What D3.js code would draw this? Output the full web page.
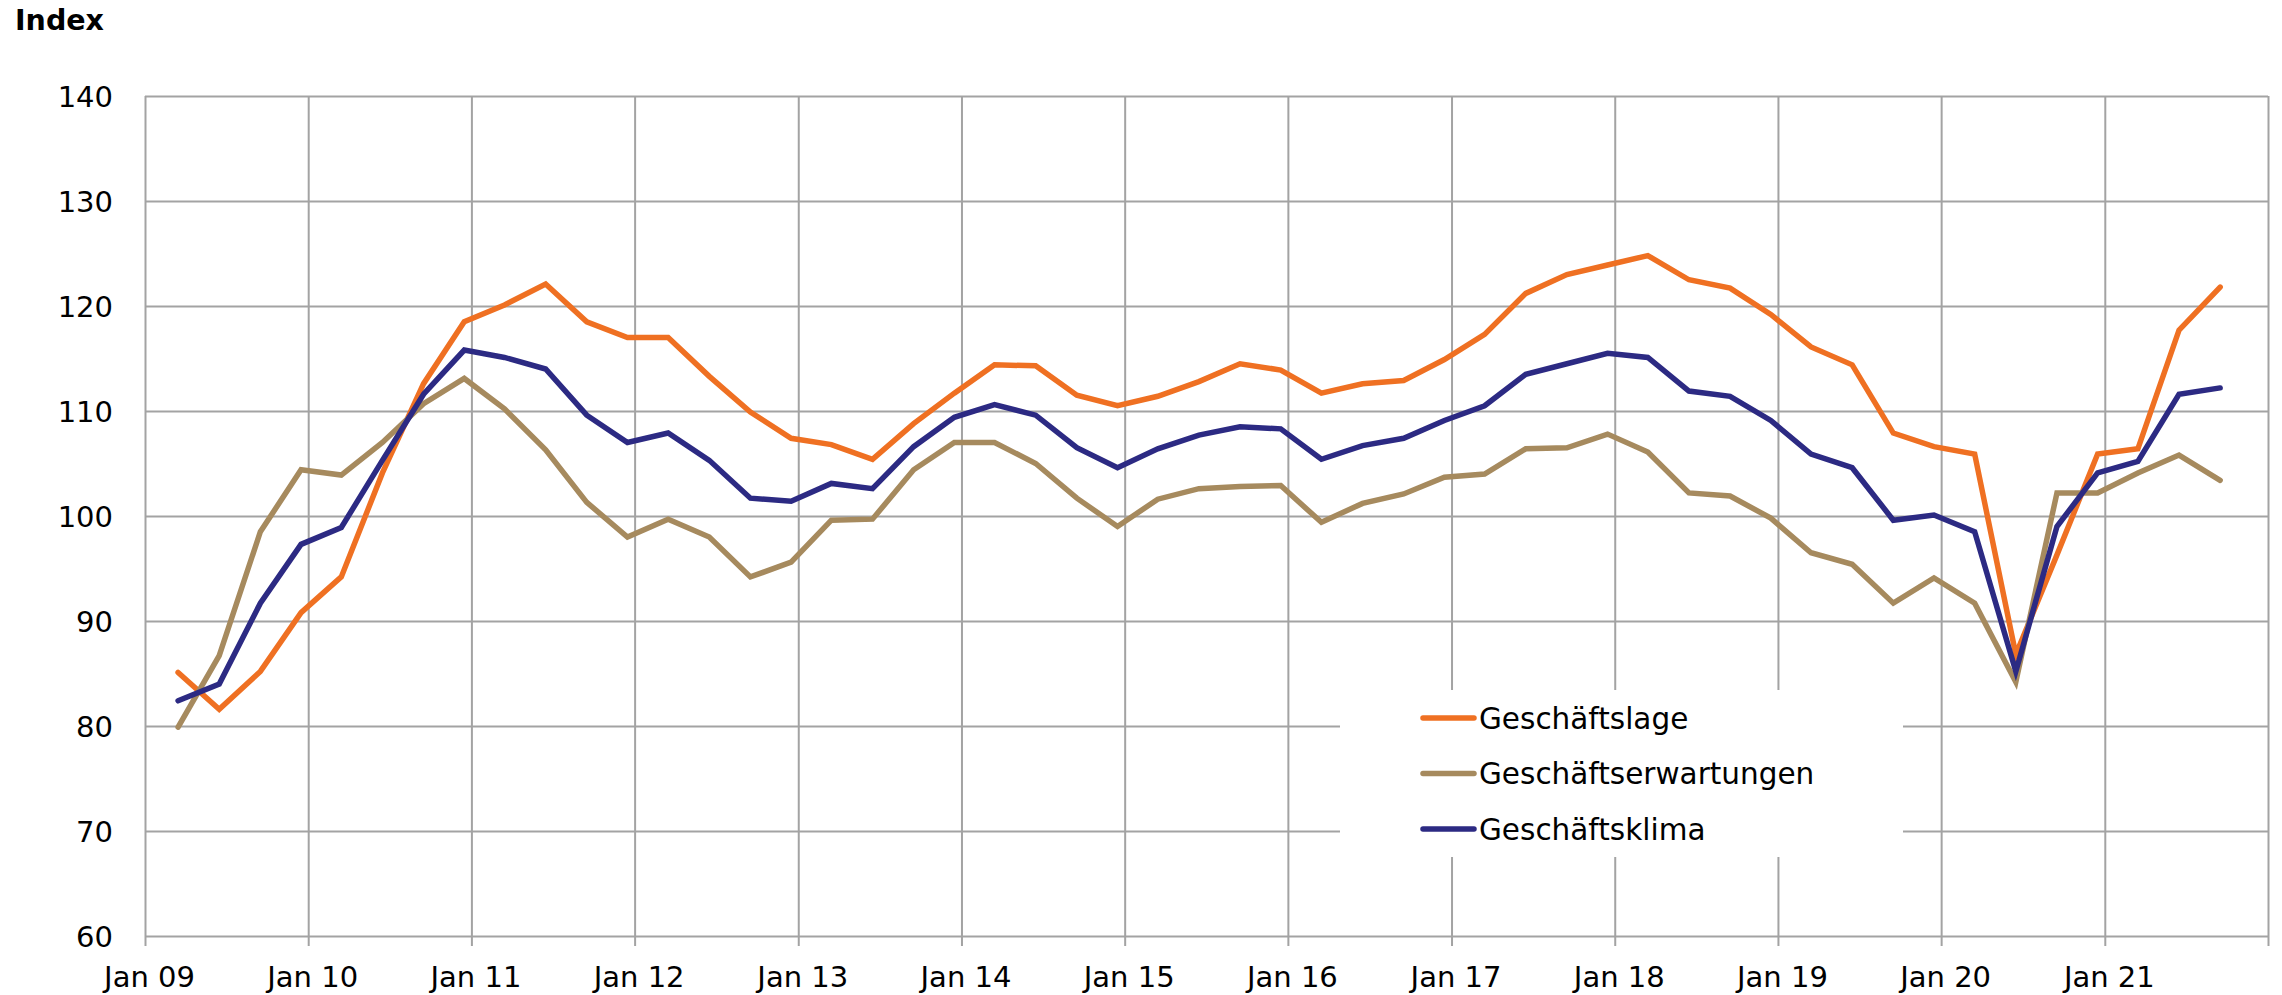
<!DOCTYPE html>
<html>
<head>
<meta charset="utf-8">
<script src="https://cdnjs.cloudflare.com/ajax/libs/d3/7.8.5/d3.min.js"></script>
<style>
  body { margin: 0; background: #fff; }
  svg { display: block; font-family: "DejaVu Sans", Verdana, sans-serif; }
</style>
</head>
<body>
<div id="chart"></div>
<script>

// quarter end months (points sit in the middle of that month)
var quarters = [
  "2009-03","2009-06","2009-09","2009-12",
  "2010-03","2010-06","2010-09","2010-12",
  "2011-03","2011-06","2011-09","2011-12",
  "2012-03","2012-06","2012-09","2012-12",
  "2013-03","2013-06","2013-09","2013-12",
  "2014-03","2014-06","2014-09","2014-12",
  "2015-03","2015-06","2015-09","2015-12",
  "2016-03","2016-06","2016-09","2016-12",
  "2017-03","2017-06","2017-09","2017-12",
  "2018-03","2018-06","2018-09","2018-12",
  "2019-03","2019-06","2019-09","2019-12",
  "2020-03","2020-06","2020-09","2020-12",
  "2021-03","2021-06","2021-09"
];

var geschaeftslage = [
  85.1, 81.6, 85.2, 90.8, 94.2, 104.1, 112.6, 118.5, 120.1, 122.1,
  118.5, 117.0, 117.0, 113.3, 109.9, 107.4, 106.8, 105.4, 108.8, 111.7,
  114.4, 114.3, 111.5, 110.5, 111.4, 112.8, 114.5, 113.9, 111.7, 112.6,
  112.9, 114.9, 117.3, 121.2, 123.0, 123.9, 124.8, 122.5, 121.7, 119.2,
  116.1, 114.4, 107.9, 106.6, 105.9, 86.8, 96.3, 105.9, 106.4, 117.7,
  121.8
];

var geschaeftserwartungen = [
  79.9, 86.7, 98.5, 104.4, 103.9, 107.0, 110.7, 113.1, 110.2, 106.3,
  101.3, 98.0, 99.7, 98.0, 94.2, 95.6, 99.6, 99.7, 104.4, 107.0,
  107.0, 105.0, 101.7, 99.0, 101.6, 102.6, 102.8, 102.9, 99.4, 101.2,
  102.1, 103.7, 104.0, 106.4, 106.5, 107.8, 106.1, 102.2, 101.9, 99.8,
  96.5, 95.4, 91.7, 94.1, 91.7, 84.2, 102.2, 102.2, 104.1, 105.8,
  103.4
];

var geschaeftsklima = [
  82.4, 84.0, 91.7, 97.3, 98.9, 105.3, 111.6, 115.8, 115.1, 114.0,
  109.6, 107.0, 107.9, 105.3, 101.7, 101.4, 103.1, 102.6, 106.6, 109.4,
  110.6, 109.6, 106.5, 104.6, 106.4, 107.7, 108.5, 108.3, 105.4, 106.7,
  107.4, 109.1, 110.5, 113.5, 114.5, 115.5, 115.1, 111.9, 111.4, 109.1,
  105.9, 104.6, 99.6, 100.1, 98.5, 85.2, 99.0, 104.1, 105.2, 111.6,
  112.2
];

var seriesNames = ["Geschäftslage", "Geschäftserwartungen", "Geschäftsklima"];
var seriesColors = ["#EF7022", "#A68A5E", "#2C2A83"];

var xTickYears = ["2009","2010","2011","2012","2013","2014","2015","2016","2017","2018","2019","2020","2021","2022"];
var xTickLabels = ["Jan 09","Jan 10","Jan 11","Jan 12","Jan 13","Jan 14","Jan 15","Jan 16","Jan 17","Jan 18","Jan 19","Jan 20","Jan 21",""];
var yTicks = [60, 70, 80, 90, 100, 110, 120, 130, 140];

//Width and height
var w = 2282;
var h = 995;
var plotLeft = 145, plotRight = 2268, plotTop = 96, plotBottom = 936;
var fontFam = "'DejaVu Sans', Verdana, sans-serif";

var svg = d3.select("#chart")
  .append("svg")
  .attr("width", w)
  .attr("height", h);

var parseMonth = d3.timeParse("%Y-%m");
var parseYear = d3.timeParse("%Y");

// mid-month position for each quarter point
var dates = quarters.map(function(q) { return d3.timeDay.offset(parseMonth(q), 15); });
var tickDates = xTickYears.map(function(yr) { return parseYear(yr); });

var x = d3.scaleTime()
  .domain([tickDates[0], tickDates[tickDates.length - 1]])
  .range([plotLeft, plotRight]);

var y = d3.scaleLinear()
  .domain([60, 140])
  .range([plotBottom, plotTop]);

// horizontal gridlines + y labels
var yAxis = svg.append("g")
  .attr("transform", "translate(" + plotLeft + ",0)")
  .call(d3.axisLeft(y)
    .tickValues(yTicks)
    .tickSize(-(plotRight - plotLeft))
    .tickPadding(32)
    .tickFormat(d3.format("d")))
  .attr("font-family", fontFam)
  .attr("font-size", 29);

yAxis.select(".domain").remove();
yAxis.selectAll(".tick line").attr("stroke", "#a3a3a3").attr("stroke-width", 2);
yAxis.selectAll(".tick text")
  .attr("fill", "#000")
  .attr("dy", "0.36em");

// vertical gridlines with small ticks below the axis
var xAxis = svg.append("g")
  .attr("transform", "translate(0," + (plotBottom + 10) + ")")
  .call(d3.axisBottom(x)
    .tickValues(tickDates)
    .tickSize(-(plotBottom + 10 - plotTop))
    .tickPadding(20)
    .tickFormat(function(d, i) { return xTickLabels[i]; }))
  .attr("font-family", fontFam)
  .attr("font-size", 29);

xAxis.select(".domain").remove();
xAxis.selectAll(".tick line").attr("stroke", "#a3a3a3").attr("stroke-width", 2);
xAxis.selectAll(".tick text")
  .attr("fill", "#000")
  .attr("dx", 4);

// title
svg.append("text")
  .attr("x", 15)
  .attr("y", 30)
  .style("font-size", "28.5px")
  .style("font-weight", "bold")
  .text("Index");

// lines
var allSeries = [geschaeftslage, geschaeftserwartungen, geschaeftsklima];

var line = d3.line()
  .x(function(d, i) { return x(dates[i]); })
  .y(function(d) { return y(d); });

svg.selectAll("path.series")
  .data(allSeries)
  .enter()
  .append("path")
  .attr("class", "series")
  .attr("d", line)
  .attr("fill", "none")
  .attr("stroke", function(d, i) { return seriesColors[i]; })
  .attr("stroke-width", 5.5)
  .attr("stroke-linejoin", "miter")
  .attr("stroke-linecap", "round");

// legend (white box over the grid)
var legend = svg.append("g");

legend.append("rect")
  .attr("x", 1340)
  .attr("y", 690)
  .attr("width", 563)
  .attr("height", 167)
  .attr("fill", "#fff");

var items = legend.selectAll("g.item")
  .data(seriesNames)
  .enter()
  .append("g")
  .attr("class", "item")
  .attr("transform", function(d, i) { return "translate(1423," + (718 + i * 55.5) + ")"; });

items.append("line")
  .attr("x1", 0)
  .attr("x2", 51)
  .attr("stroke", function(d, i) { return seriesColors[i]; })
  .attr("stroke-width", 5.5)
  .attr("stroke-linecap", "round");

items.append("text")
  .attr("x", 56)
  .attr("dy", "0.36em")
  .style("font-size", "29.5px")
  .text(function(d) { return d; });

</script>
</body>
</html>
